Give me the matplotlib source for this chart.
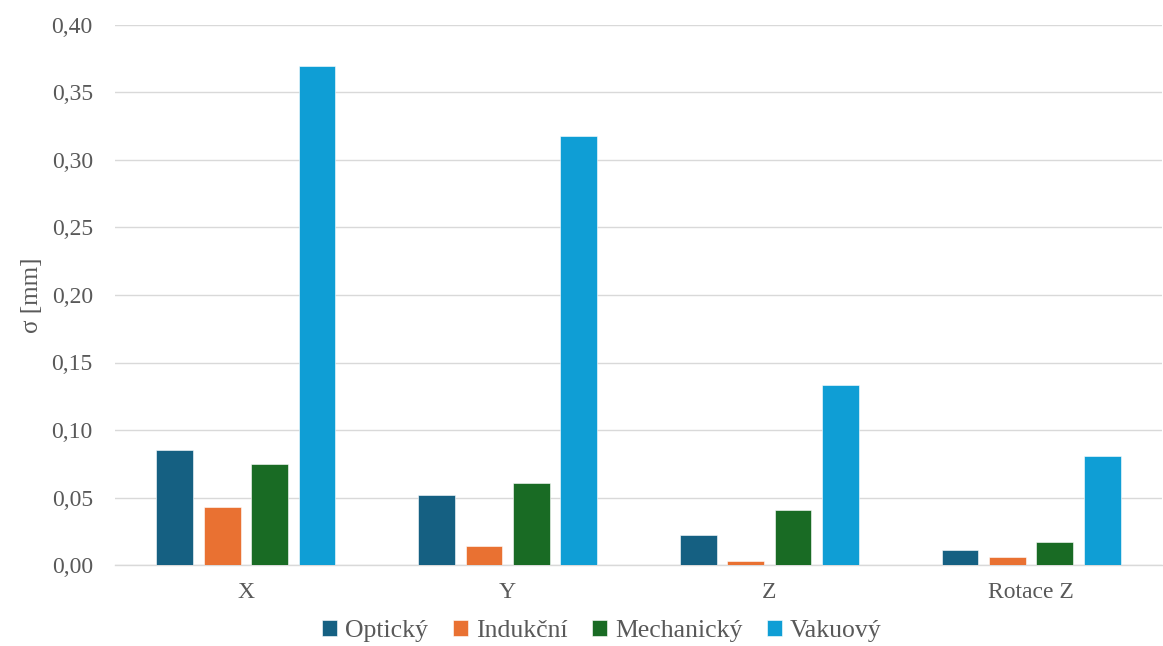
import matplotlib
matplotlib.use("Agg")
import matplotlib.pyplot as plt
import numpy as np
from matplotlib.ticker import FuncFormatter, MultipleLocator

categories = ["X", "Y", "Z", "Rotace Z"]
series_names = ["Optický", "Indukční", "Mechanický", "Vakuový"]
opticky = [0.085, 0.052, 0.0225, 0.0114]
indukcni = [0.043, 0.014, 0.0033, 0.0062]
mechanicky = [0.075, 0.061, 0.041, 0.0173]
vakuovy = [0.370, 0.3175, 0.133, 0.081]
colors = ["#156082", "#E97132", "#196B24", "#0F9ED5"]

plt.rcParams["font.family"] = ["Liberation Serif", "DejaVu Serif"]
text_color = "#595959"

fig = plt.figure(figsize=(11.63, 6.46), dpi=100)
ax = fig.add_axes([115 / 1163, 1 - 565 / 646, 1047 / 1163, 540 / 646])

x = np.arange(len(categories))
width = 0.14
step = 0.181
for i, (vals, name, col) in enumerate(zip([opticky, indukcni, mechanicky, vakuovy], series_names, colors)):
    ax.bar(x + (i - 1.5) * step, vals, width, color=col, label=name,
           edgecolor="#ffffff", linewidth=0.4, zorder=3)

ax.set_xlim(-0.5, len(categories) - 0.5)
ax.set_ylim(0, 0.40)
ax.yaxis.set_major_locator(MultipleLocator(0.05))
ax.yaxis.set_major_formatter(FuncFormatter(lambda v, p: f"{v:.2f}".replace(".", ",")))
ax.grid(axis="y", color="#D9D9D9", linewidth=1.0, zorder=0)
ax.set_axisbelow(True)
for s in ["top", "right", "left"]:
    ax.spines[s].set_visible(False)
ax.spines["bottom"].set_color("#D9D9D9")
ax.spines["bottom"].set_linewidth(1.0)
ax.tick_params(axis="both", length=0, labelsize=17, colors=text_color)
ax.tick_params(axis="y", pad=16)
ax.tick_params(axis="x", pad=12)
ax.set_xticks(x)
ax.set_xticklabels(categories)

ax.set_ylabel("σ [mm]", fontsize=18, color=text_color, labelpad=6)

leg = ax.legend(loc="center", bbox_to_anchor=(0.465, -0.122), ncol=4, frameon=False,
                fontsize=18.5, handlelength=0.6, handleheight=0.6, handletextpad=0.3,
                columnspacing=0.95, borderpad=0)
for t in leg.get_texts():
    t.set_color(text_color)

fig.savefig("out.png", dpi=100, facecolor="white")
